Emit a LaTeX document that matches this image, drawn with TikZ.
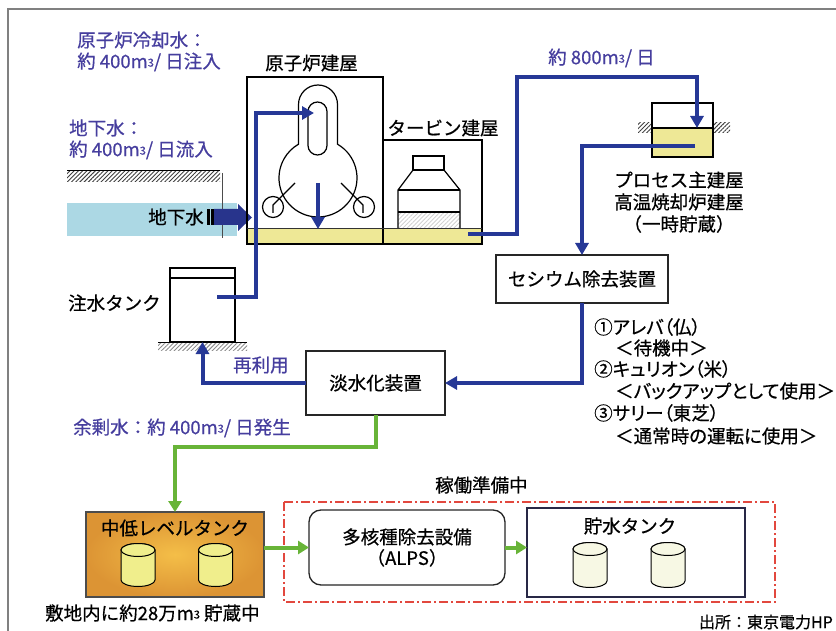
\documentclass[tikz,border=0pt]{standalone}
\usepackage{fontspec}
\setmainfont{Noto Sans CJK JP}[FakeBold=0.6]
\newfontfamily\paltfont{Noto Sans CJK JP}[FakeBold=0.6, RawFeature=+palt]
\usetikzlibrary{arrows.meta,patterns.meta}

\definecolor{pipeblue}{RGB}{38,56,150}
\definecolor{annot}{RGB}{70,62,158}
\definecolor{pipegreen}{RGB}{104,180,56}
\definecolor{waterfill}{RGB}{238,232,150}
\definecolor{gwblue}{RGB}{172,216,228}
\definecolor{dashred}{RGB}{226,72,62}
\definecolor{navyarrow}{RGB}{40,52,140}
\definecolor{tankin}{RGB}{244,190,72}
\definecolor{tankout}{RGB}{220,148,52}
\definecolor{cylyellow}{RGB}{240,238,140}
\definecolor{cylpale}{RGB}{247,248,228}
\definecolor{storeline}{RGB}{40,40,70}

% cubic metres with a small raised 3
\newcommand\cubm{m\raisebox{1.5pt}{\fontsize{11}{11}\selectfont 3}}

% cylinder: centre x, top y, bottom y, x radius, fill
\newcommand\tankcyl[5]{%
  \draw[line width=1pt, fill=#5] ({#1-#4},#2) -- ({#1-#4},#3)
    arc[start angle=180, end angle=0, x radius=#4, y radius=6.5]
    -- ({#1+#4},#2)
    arc[start angle=0, end angle=-180, x radius=#4, y radius=6.5] -- cycle;
  \draw[line width=1pt, fill=#5] (#1,#2) ellipse[x radius=#4, y radius=6.5];}

\begin{document}
\begin{tikzpicture}[x=1pt, y=-1pt,
  txt/.style={font=\fontsize{18.5}{21}\selectfont, inner sep=0pt},
  listtxt/.style={font=\paltfont\fontsize{18.5}{21}\selectfont, inner sep=0pt},
  note/.style={txt, text=annot},
  smalltxt/.style={font=\fontsize{16}{18}\selectfont, inner sep=0pt},
  bluepipe/.style={draw=pipeblue, line width=4pt},
  bluearrow/.style={bluepipe, -{Triangle[length=12pt,width=13pt]}},
  greenarrow/.style={draw=pipegreen, line width=4pt, -{Triangle[length=11pt,width=13pt]}},
  building/.style={draw=black, line width=1.8pt},
  procbox/.style={draw=black!85, line width=1.3pt, fill=white, inner sep=0pt,
                  outer sep=0pt, font=\fontsize{18.5}{21}\selectfont},
  groundhatch/.style={pattern={Lines[angle=45,distance=3pt,line width=0.9pt]}}
]
\useasboundingbox (0,0) rectangle (836,631);

% outer frame
\draw[gray, line width=1.5pt] (8,631) -- (8,9) -- (836,9);

% ---------- groundwater ----------
\fill[groundhatch, pattern color=black!75] (67,171) rectangle (220,182);
\draw[line width=1.4pt] (67,170.5) -- (220,170.5);
\fill[gwblue] (67,203) rectangle (237,236);
\draw[black!70, line width=0.8pt] (222,173) -- (222,238);
\node[txt] (gwlabel) at (176,217) {地下水};
% inflow arrow with striped tail
\fill[navyarrow] (214,209) -- (238,209) -- (238,204) -- (252,217.5)
  -- (238,231) -- (238,225) -- (214,225) -- cycle;
\fill[black] (206.5,209) rectangle (209.5,225);
\fill[black] (211,209) rectangle (214,225);

% ---------- reactor and turbine buildings ----------
\fill[waterfill] (247,228) rectangle (482,244);
\draw[building] (247,77) rectangle (383,244);
\draw[building] (383,140) rectangle (482,244);
\draw[black!80, line width=0.8pt] (247,228) -- (482,228);

% reactor vessel
\draw[line width=1.2pt] (298.5,144.2) -- (298.5,104.5)
  arc[start angle=180, end angle=360, radius=19.5]
  -- (337.5,144.2)
  arc[start angle=-60, end angle=240, radius=39] -- cycle;
\draw[line width=1.2pt, rounded corners=9.5pt] (308,102) rectangle (327,155);
\draw[line width=1.2pt] (273,207) circle[radius=10.5];
\draw[line width=1.2pt] (364,207) circle[radius=10.5];
\draw[line width=1.2pt] (273,213) -- (273,205) -- (295,183);
\draw[line width=1.2pt] (363,213) -- (363,205) -- (341,183);

% turbine
\fill[groundhatch, pattern color=black!18] (398,212) rectangle (460,228);
\draw[line width=1.2pt] (413,156) rectangle (444,170);
\draw[line width=1.2pt] (398,228) -- (398,190) -- (413,170) -- (444,170)
  -- (460,190) -- (460,228);
\draw[line width=1.2pt] (398,190) -- (460,190);
\draw[line width=1.2pt] (398,212) -- (460,212);

\node[txt] (rlabel) at (311.5,63) {原子炉建屋};
\node[txt] (tlabel) at (443,128) {タービン建屋};

% ---------- process building tank ----------
\fill[groundhatch, pattern color=black!75] (638,123) rectangle (652,133);
\fill[groundhatch, pattern color=black!75] (713,123) rectangle (730,133);
\fill[waterfill] (652,128) rectangle (713,157);
\draw[line width=1.5pt] (652,103) rectangle (713,157);
\draw[line width=1.2pt] (652,128) -- (713,128);
\node[txt] (plabel1) at (679,180) {プロセス主建屋};
\node[txt] (plabel2) at (679,202) {高温焼却炉建屋};
\node[txt] (plabel3) at (679,224) {（一時貯蔵）};

% ---------- injection tank ----------
\fill[groundhatch, pattern color=black!45] (158,343) rectangle (247,350);
\node[draw, line width=1.5pt, minimum width=65pt, minimum height=74pt,
      inner sep=0pt, outer sep=0pt] (inj) at (202.5,305) {};
\draw[line width=1.5pt] (170,278) -- (235,278);
\draw[line width=1.5pt] (158,342.5) -- (247,342.5);
\node[txt, anchor=west] (injlabel) at (68,303) {注水タンク};

% ---------- treatment units ----------
\node[procbox, minimum width=172pt, minimum height=48pt] (cs) at (582,279) {セシウム除去装置};
\node[procbox, minimum width=139pt, minimum height=64pt] (desal) at (375.5,383) {淡水化装置};

% ---------- bottom row ----------
\node[draw=black!70, line width=1.2pt, inner color=tankin, outer color=tankout,
      minimum width=178pt, minimum height=85pt, inner sep=0pt, outer sep=0pt]
      (midtank) at (175,554.5) {};
\node[txt] (midlabel) at (175,528) {中低レベルタンク};
\tankcyl{138}{550}{580}{17}{cylyellow}
\tankcyl{215.5}{550}{580}{17}{cylyellow}
\node[txt, anchor=west] (stockcap) at (45,613) {敷地内に約28万\cubm\ 貯蔵中};

\draw[dashred, line width=1.2pt, dash pattern=on 9pt off 3pt on 2pt off 3pt]
  (284,502) rectangle (775,602);
\node[txt, anchor=west] (readylabel) at (435,485) {稼働準備中};

\node[procbox, rounded corners=12pt, minimum width=196pt, minimum height=75pt,
      align=center] (alps) at (407,547.5) {多核種除去設備\\（ALPS）};

\node[draw=storeline, line width=1.5pt, minimum width=218pt, minimum height=89pt,
      inner sep=0pt, outer sep=0pt] (store) at (636,552.5) {};
\node[txt] (storelabel) at (630,526) {貯水タンク};
\tankcyl{590}{549}{581}{17}{cylpale}
\tankcyl{668}{549}{581}{17}{cylpale}

\node[smalltxt, anchor=east] (source) at (833,622) {出所：東京電力HP};

% ---------- blue water pipes ----------
\coordinate (injout) at (217,297);
\coordinate (ibend) at (256,297);
\coordinate (rin) at (314,113);
\draw[bluearrow] (injout) -- (ibend) |- (rin);

\coordinate (rdown0) at (318,183);
\coordinate (rdown1) at (318,229);
\draw[bluearrow] (rdown0) -- (rdown1);

\coordinate (tout) at (468,234);
\coordinate (tbend) at (517,77);
\coordinate (pin) at (697,128);
\draw[bluearrow] (tout) -| (tbend) -| (pin);

\coordinate (pout) at (695,146);
\draw[bluearrow] (pout) -| (cs.north);
\draw[bluearrow] (cs.south) |- (desal.east);
\draw[bluearrow] (desal.west) -| (inj.south);

% ---------- green water pipes ----------
\coordinate (gbend) at (375.5,447);
\draw[greenarrow] (desal.south) -- (gbend) -| (midtank.north);
\draw[greenarrow] (midtank.east |- alps.west) -- (alps.west);
\draw[greenarrow] (alps.east) -- (store.west |- alps.east);

% ---------- flow notes ----------
\node[note, anchor=west] (n1a) at (77,40) {原子炉冷却水：};
\node[note, anchor=west] (n1b) at (77,62) {約 400\cubm/ 日注入};
\node[note, anchor=west] (n2a) at (69,128) {地下水：};
\node[note, anchor=west] (n2b) at (69,150) {約 400\cubm/ 日流入};
\node[note, anchor=west] (n3) at (548,58) {約 800\cubm/ 日};
\node[note, anchor=west] (n4) at (233,365) {再利用};
\node[note, anchor=west] (n5) at (73,428) {余剰水：約 400\cubm/ 日発生};

% ---------- cesium unit list ----------
\node[listtxt, anchor=west] (l1) at (594,327) {①アレバ（仏）};
\node[listtxt, anchor=west] (l2) at (615,348) {＜待機中＞};
\node[listtxt, anchor=west] (l3) at (594,369) {②キュリオン（米）};
\node[listtxt, anchor=west] (l4) at (615,391) {＜バックアップとして使用＞};
\node[listtxt, anchor=west] (l5) at (594,413) {③サリー（東芝）};
\node[listtxt, anchor=west] (l6) at (615,436) {＜通常時の運転に使用＞};
\end{tikzpicture}
\end{document}
